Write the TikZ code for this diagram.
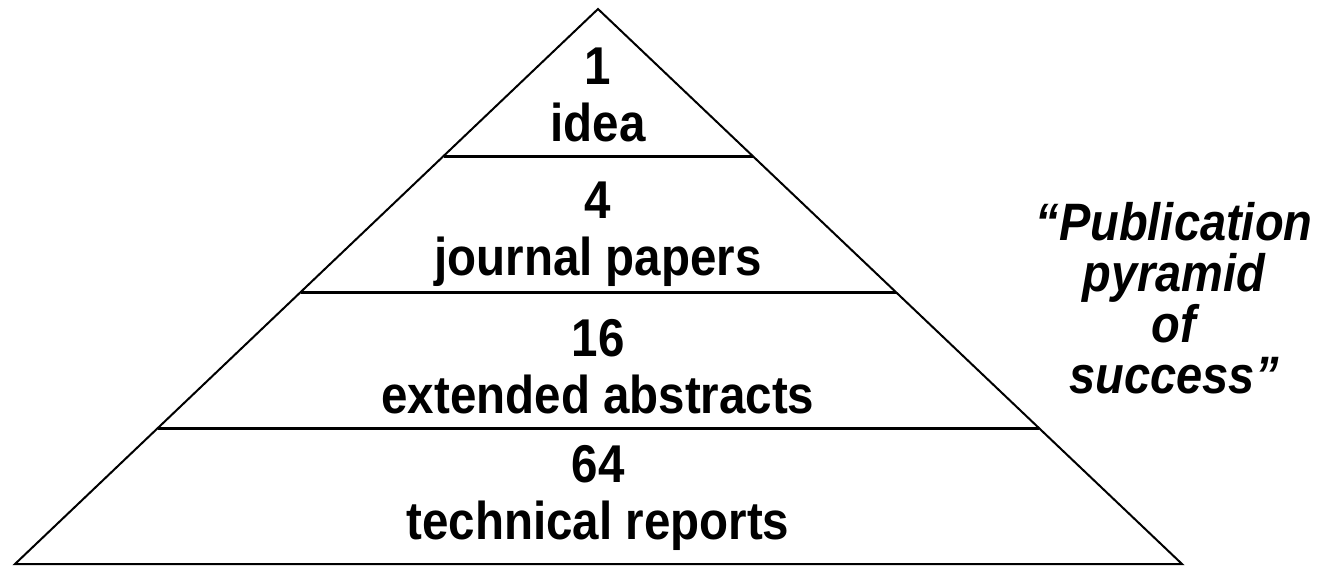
\documentclass[tikz,border=0pt]{standalone}
\usepackage{graphicx}
\usepackage{fontspec}
\setmainfont{Liberation Sans}
\usetikzlibrary{calc}
\newcommand{\tallbox}[1]{\scalebox{1}[1.12]{#1}}

\begin{document}
\begin{tikzpicture}[x=1pt,y=-1pt,
    level/.style={font=\bfseries\fontsize{47.5}{58}\selectfont, anchor=base, inner sep=0pt},
    motto/.style={font=\bfseries\itshape\fontsize{47}{52}\selectfont, anchor=base, inner sep=0pt}]
    \useasboundingbox (0,0) rectangle (1319,566);
    % outline of the pyramid
    \coordinate (apex) at (598,9);
    \coordinate (baseL) at (15,564);
    \coordinate (baseR) at (1182,564);
    \draw[line width=2pt] (baseL) -- (apex) -- (baseR) -- cycle;
    % floors
    \foreach \t in {0.2649,0.5099,0.7550}
      \draw[line width=3pt] ($(apex)!\t!(baseL)$) -- ($(apex)!\t!(baseR)$);
    % counts and what they are
    \node[level] (n1) at (598,84) {\tallbox{1}};
    \node[level] (w1) at (598,141) {\tallbox{idea}};
    \node[level] (n2) at (598,218) {\tallbox{4}};
    \node[level] (w2) at (598,275) {\tallbox{journal papers}};
    \node[level] (n3) at (598,356) {\tallbox{16}};
    \node[level] (w3) at (598,413) {\tallbox{extended abstracts}};
    \node[level] (n4) at (598,482) {\tallbox{64}};
    \node[level] (w4) at (598,539) {\tallbox{technical reports}};
    % the caption on the right
    \node[motto] (m1) at (1174,240) {\tallbox{``Publication}};
    \node[motto] (m2) at (1174,291) {\tallbox{pyramid}};
    \node[motto] (m3) at (1174,342) {\tallbox{of}};
    \node[motto] (m4) at (1174,393) {\tallbox{success''}};
\end{tikzpicture}
\end{document}
